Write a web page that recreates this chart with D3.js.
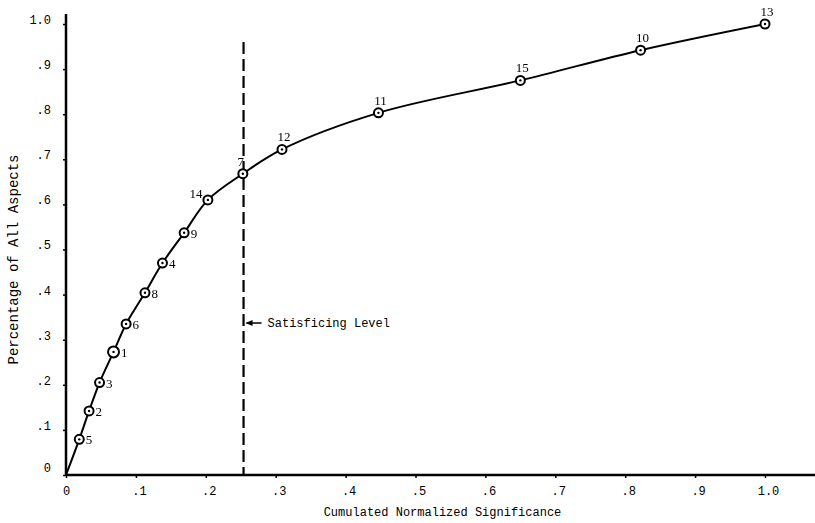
<!DOCTYPE html>
<html>
<head>
<meta charset="utf-8">
<script src="https://cdn.jsdelivr.net/npm/d3@7"></script>
<style>
  html, body { margin: 0; padding: 0; background: #fff; }
  svg { display: block; }
  text { -webkit-font-smoothing: antialiased; }
</style>
</head>
<body>
<svg id="chart" width="815" height="523"></svg>
<script>
// ---- data ----
const pointIds = [5, 2, 3, 1, 6, 8, 4, 9, 14, 7, 12, 11, 15, 10, 13];
const xValues = [0.019, 0.033, 0.048, 0.068, 0.086, 0.113, 0.138, 0.169, 0.203, 0.253, 0.309, 0.447, 0.650, 0.822, 1.0];
const yValues = [0.079, 0.142, 0.205, 0.273, 0.335, 0.404, 0.470, 0.537, 0.610, 0.668, 0.722, 0.803, 0.875, 0.942, 1.0];
const xTickValues = [0, 0.1, 0.2, 0.3, 0.4, 0.5, 0.6, 0.7, 0.8, 0.9, 1.0];
const xTickLabels = ["0", ".1", ".2", ".3", ".4", ".5", ".6", ".7", ".8", ".9", "1.0"];
const yTickValues = [0, 0.1, 0.2, 0.3, 0.4, 0.5, 0.6, 0.7, 0.8, 0.9, 1.0];
const yTickLabels = ["0", ".1", ".2", ".3", ".4", ".5", ".6", ".7", ".8", ".9", "1.0"];
const satisficingX = 0.254;
const satisficingTop = 0.96;
const satisficingArrowY = 0.337;
const satisficingLabel = "Satisficing Level";
const xTitle = "Cumulated Normalized Significance";
const yTitle = "Percentage of All Aspects";
// label placement: r = right, l = left, t = above, tl = above-left
const labelPos = ["r","r","r","r","r","r","r","r","l","tl","t","t","t","t","t"];

const svg = d3.select("#chart");
const x = d3.scaleLinear().domain([0, 1]).range([66, 765]);
const y = d3.scaleLinear().domain([0, 1]).range([475, 24]);

const monoFont = "'Liberation Mono', 'DejaVu Sans Mono', monospace";
const serifFont = "'Liberation Serif', 'DejaVu Serif', serif";

// axes lines
svg.append("line").attr("x1", x(0)).attr("x2", 815).attr("y1", y(0)).attr("y2", y(0))
  .attr("stroke", "#000").attr("stroke-width", 2.5);
svg.append("line").attr("x1", x(0)).attr("x2", x(0)).attr("y1", y(0) + 1).attr("y2", 14)
  .attr("stroke", "#000").attr("stroke-width", 2.5);

// x ticks
const xAxis = d3.axisBottom(x).tickValues(xTickValues).tickSize(3).tickPadding(8)
  .tickFormat((d, i) => xTickLabels[i]);
const gx = svg.append("g").attr("transform", `translate(0,${y(0)})`).call(xAxis);
gx.select(".domain").remove();
gx.selectAll("line").attr("stroke", "#000").attr("stroke-width", 1.5);
gx.selectAll("text").attr("font-family", monoFont).attr("font-size", 12).attr("fill", "#000")
  .attr("dx", (d, i) => i === 0 ? 0 : 3);

// y ticks
const yAxis = d3.axisLeft(y).tickValues(yTickValues).tickSize(3).tickPadding(12)
  .tickFormat((d, i) => yTickLabels[i]);
const gy = svg.append("g").attr("transform", `translate(${x(0)},0)`).call(yAxis);
gy.select(".domain").remove();
gy.selectAll("line").attr("stroke", "#000").attr("stroke-width", 1.5);
gy.selectAll("text").attr("font-family", monoFont).attr("font-size", 12).attr("fill", "#000")
  .attr("dy", (d, i) => i === 0 ? "-0.3em" : "-0.05em");

// titles
svg.append("text").attr("x", (x(0) + 815) / 2 + 2).attr("y", 516).attr("text-anchor", "middle")
  .attr("font-family", monoFont).attr("font-size", 12).text(xTitle);
svg.append("text").attr("transform", `translate(18,${(y(0) + 14) / 2 + 15}) rotate(-90)`)
  .attr("text-anchor", "middle").attr("font-family", monoFont).attr("font-size", 14).text(yTitle);

// satisficing dashed line
svg.append("line").attr("x1", x(satisficingX)).attr("x2", x(satisficingX))
  .attr("y1", y(satisficingTop)).attr("y2", y(0))
  .attr("stroke", "#000").attr("stroke-width", 2.2).attr("stroke-dasharray", "12,5");
// arrow
const ay = y(satisficingArrowY);
svg.append("line").attr("x1", x(satisficingX) + 3).attr("x2", x(satisficingX) + 18)
  .attr("y1", ay).attr("y2", ay).attr("stroke", "#000").attr("stroke-width", 1.5);
svg.append("path")
  .attr("d", `M${x(satisficingX) + 2},${ay} L${x(satisficingX) + 9},${ay - 3} L${x(satisficingX) + 9},${ay + 3} Z`)
  .attr("fill", "#000");
svg.append("text").attr("x", x(satisficingX) + 24).attr("y", ay + 4)
  .attr("font-family", monoFont).attr("font-size", 12).text(satisficingLabel);

// curve
const pts = [[0, 0]].concat(xValues.map((v, i) => [v, yValues[i]]));
const line = d3.line().x(d => x(d[0])).y(d => y(d[1])).curve(d3.curveCatmullRom.alpha(0.5));
svg.append("path").attr("d", line(pts)).attr("fill", "none")
  .attr("stroke", "#000").attr("stroke-width", 2);

// markers
const g = svg.append("g");
const lg = svg.append("g").attr("opacity", 0.999).style("will-change", "transform");
pointIds.forEach((id, i) => {
  const cx = x(xValues[i]), cy = y(yValues[i]);
  const r = id === 1 ? 5.5 : 4.5;
  g.append("circle").attr("cx", cx).attr("cy", cy).attr("r", r)
    .attr("fill", "#fff").attr("stroke", "#000").attr("stroke-width", 2);
  g.append("circle").attr("cx", cx).attr("cy", cy).attr("r", 1.2).attr("fill", "#000");
  const t = lg.append("text").attr("font-family", serifFont).attr("font-size", 13).attr("fill", "#000").text(id);
  const p = labelPos[i];
  if (p === "r") t.attr("x", cx + r + 2).attr("y", cy + 5);
  else if (p === "l") t.attr("x", cx - r - 1).attr("y", cy - 2).attr("text-anchor", "end");
  else if (p === "tl") t.attr("x", cx - 2).attr("y", cy - 8).attr("text-anchor", "middle");
  else t.attr("x", cx + 2).attr("y", cy - 8).attr("text-anchor", "middle");
});
</script>
</body>
</html>
